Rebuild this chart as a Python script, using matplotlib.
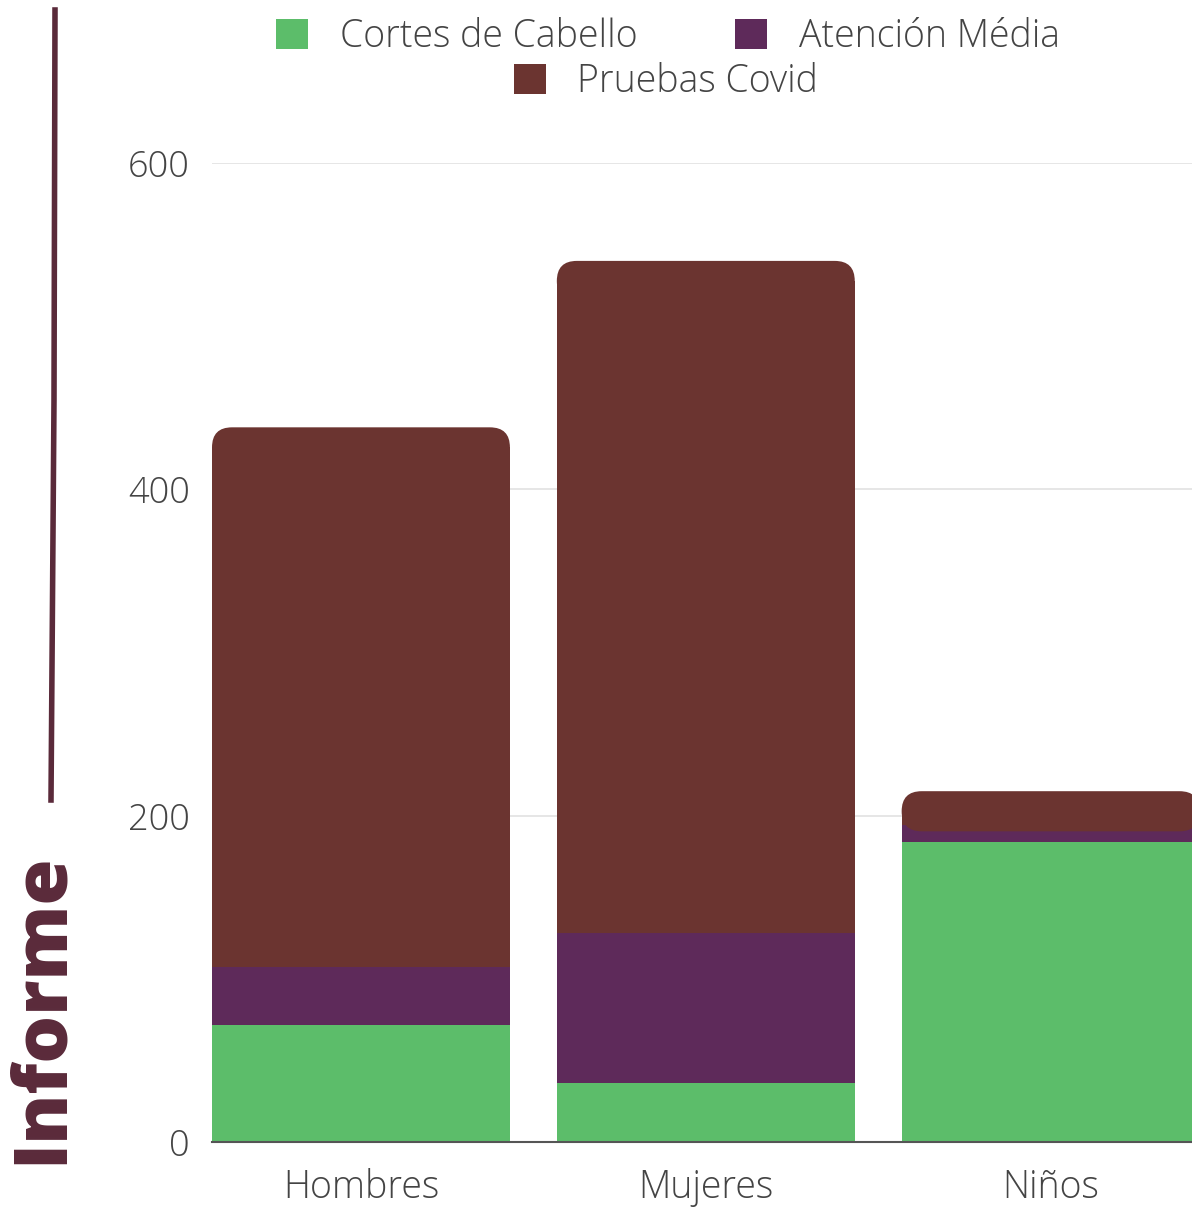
import numpy as np
import matplotlib.pyplot as plt
from matplotlib.patches import FancyBboxPatch, Patch
from matplotlib.lines import Line2D

plt.rcParams['font.family'] = ['Open Sans', 'DejaVu Sans']

# Datos
categorias = ["Hombres", "Mujeres", "Niños"]
cortes = [72, 36, 184]
atencion = [35, 92, 10]
covid = [331, 412, 21]
series = ["Cortes de Cabello", "Atención Média", "Pruebas Covid"]
colores = ["#5cbd6a", "#5e2a5a", "#6b3430"]

W, H = 1192, 1211
fig = plt.figure(figsize=(W / 100, H / 100), dpi=100)
ax = fig.add_axes([212 / W, 1 - 1142 / H, (1192 - 212) / W, (1142 - 163) / H])

x = np.arange(len(categorias))
ancho = 0.864
r = 0.058      # radio de esquina en unidades x
aspect = 212   # px-y por unidad / px-x por unidad

abajo = np.zeros(len(categorias))
for i, (vals, col) in enumerate(zip([cortes, atencion, covid], colores)):
    vals = np.array(vals, dtype=float)
    if i < 2:
        ax.bar(x, vals, ancho, bottom=abajo, color=col, zorder=2)
    else:
        # segmento superior con esquinas redondeadas
        ry = r * aspect
        ax.bar(x, vals - ry, ancho, bottom=abajo, color=col, zorder=2)
        for xi, b, v in zip(x, abajo, vals):
            p = FancyBboxPatch((xi - ancho / 2, b + v - 2 * ry), ancho, 2 * ry,
                               boxstyle=f"round,pad=0,rounding_size={r}",
                               mutation_aspect=aspect, fc=col, ec="none", zorder=2)
            ax.add_patch(p)
    abajo += vals

ax.set_xlim(-0.432, 2.41)
ax.set_ylim(0, 600)
ax.set_yticks([0, 200, 400, 600])
ax.yaxis.grid(True, color="#e2e2e2", lw=1.2, zorder=0)
ax.set_axisbelow(True)
for s in ["top", "right", "left"]:
    ax.spines[s].set_visible(False)
ax.spines["bottom"].set_color("#555555")
ax.spines["bottom"].set_linewidth(1.5)
ax.spines["bottom"].set_zorder(3)
ax.tick_params(length=0)
ax.tick_params(axis="y", pad=16, labelsize=26, labelcolor="#444444")
ax.tick_params(axis="x", pad=19, labelsize=27, labelcolor="#444444")
ax.set_xticks(x)
ax.set_xticklabels(categorias)
for t in ax.get_xticklabels() + ax.get_yticklabels():
    t.set_fontweight("light")

# Leyenda en dos filas, centrada
h = [Patch(fc=c, ec="none") for c in colores]
kw = dict(frameon=False, fontsize=27, handlelength=0.85, handleheight=0.85,
          handletextpad=0.85, labelcolor="#444444", borderpad=0.1)
leg1 = fig.legend(h[:2], series[:2], loc="center", bbox_to_anchor=(668 / W, 1 - 37 / H),
                  ncol=2, columnspacing=2.6, **kw)
leg2 = fig.legend(h[2:], series[2:], loc="center", bbox_to_anchor=(666 / W, 1 - 82 / H), **kw)
for lg in (leg1, leg2):
    for t in lg.get_texts():
        t.set_fontweight("light")

# Título vertical y trazo decorativo
fig.text(42 / W, 1 - 1164 / H, "Informe", rotation=90, ha="center", va="bottom",
         fontsize=54, fontweight="heavy", color="#5a2a3a")
fig.add_artist(Line2D([55 / W, 54 / W, 51 / W], [1 - 10 / H, 1 - 400 / H, 1 - 800 / H],
                      color="#5a2a3a", lw=4))

fig.savefig("out.png", dpi=100)
